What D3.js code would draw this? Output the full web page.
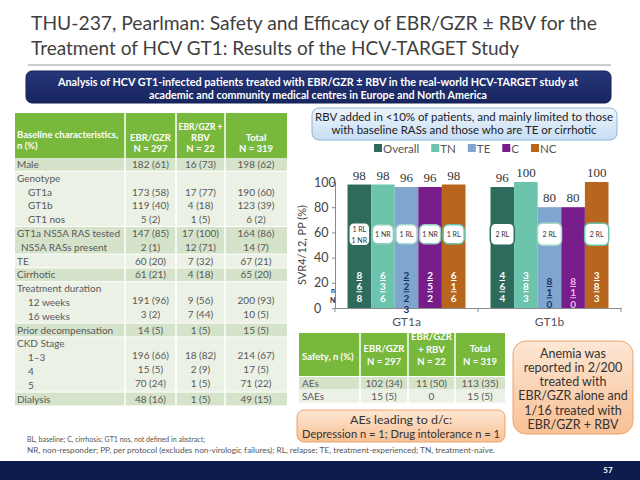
<!DOCTYPE html>
<html><head><meta charset="utf-8">
<script src="https://cdn.jsdelivr.net/npm/d3@7"></script>
<style>
body{margin:0;background:#fff;}
svg{display:block;font-family:Lato,"Open Sans",sans-serif;}
</style></head>
<body>
<svg id="c" width="640" height="480"></svg>
<script>
// ---------- DATA ----------
const groups = ["GT1a", "GT1b"];
const series = ["Overall", "TN", "TE", "C", "NC"];
const gt1aValues = [98, 98, 96, 96, 98];
const gt1bValues = [96, 100, 80, 80, 100];
const yTicks = [0, 20, 40, 60, 80, 100];
const gt1aNotes = [["1 RL", "1 NR"], ["1 NR"], ["1 RL"], ["1 NR"], ["1 RL"]];
const gt1bNotes = [["2 RL"], [], ["2 RL"], [], ["2 RL"]];
const gt1aNN = ["868", "636", "2223", "252", "616"];
const gt1bNN = ["464", "383", "810", "810", "383"];
const seriesColors = ["#2e6b5c", "#6cc4ad", "#7fa6cf", "#771d8a", "#b8651d"];

const titleLines = ["THU-237, Pearlman: Safety and Efficacy of EBR/GZR \u00b1 RBV for the",
                    "Treatment of HCV GT1: Results of the HCV-TARGET Study"];
const bannerLines = ["Analysis of HCV GT1-infected patients treated with EBR/GZR \u00b1 RBV in the real-world HCV-TARGET study at",
                     "academic and community medical centres in Europe and North America"];
const calloutLines = ["RBV added in <10% of patients, and mainly limited to those",
                      "with baseline RASs and those who are TE or cirrhotic"];

const blHeader1 = ["Baseline characteristics,", "n (%)"];
const blHeader2 = ["EBR/GZR", "N = 297"];
const blHeader3 = ["EBR/GZR +", "RBV", "N = 22"];
const blHeader4 = ["Total", "N = 319"];
const blLabels = ["Male","Genotype","GT1a","GT1b","GT1 nos","GT1a NS5A RAS tested","NS5A RASs present","TE","Cirrhotic","Treatment duration","12 weeks","16 weeks","Prior decompensation","CKD Stage","1\u20133","4","5","Dialysis"];
const blIndent = [0,0,1,1,1,0,1,0,0,0,1,1,0,0,1,1,1,0];
const blBlock  = [0,1,1,1,1,2,2,3,4,5,5,5,6,7,7,7,7,8];
const blEBR   = ["182 (61)","","173 (58)","119 (40)","5 (2)","147 (85)","2 (1)","60 (20)","61 (21)","","191 (96)","3 (2)","14 (5)","","196 (66)","15 (5)","70 (24)","48 (16)"];
const blRBV   = ["16 (73)","","17 (77)","4 (18)","1 (5)","17 (100)","12 (71)","7 (32)","4 (18)","","9 (56)","7 (44)","1 (5)","","18 (82)","2 (9)","1 (5)","1 (5)"];
const blTotal = ["198 (62)","","190 (60)","123 (39)","6 (2)","164 (86)","14 (7)","67 (21)","65 (20)","","200 (93)","10 (5)","15 (5)","","214 (67)","17 (5)","71 (22)","49 (15)"];

const sfHeader1 = ["Safety, n (%)"];
const sfHeader2 = ["EBR/GZR", "N = 297"];
const sfHeader3 = ["EBR/GZR", "+ RBV", "N = 22"];
const sfHeader4 = ["Total", "N = 319"];
const sfLabels = ["AEs", "SAEs"];
const sfEBR = ["102 (34)", "15 (5)"];
const sfRBV = ["11 (50)", "0"];
const sfTotal = ["113 (35)", "15 (5)"];

const dcLines = ["AEs leading to d/c:", "Depression n = 1; Drug intolerance n = 1"];
const anemiaLines = ["Anemia was", "reported in 2/200", "treated with", "EBR/GZR alone and", "1/16 treated with", "EBR/GZR + RBV"];
const footLines = ["BL, baseline; C, cirrhosis; GT1 nos, not defined in abstract;",
  "NR, non-responder; PP, per protocol (excludes non-virologic failures); RL, relapse; TE, treatment-experienced; TN, treatment-naive."];
const pageNumber = "57";

// ---------- DRAW ----------
const svg = d3.select("#c");
const defs = svg.append("defs");
function lg(id, c1, c2){
  const g = defs.append("linearGradient").attr("id", id).attr("x1",0).attr("y1",0).attr("x2",0).attr("y2",1);
  g.append("stop").attr("offset","0%").attr("stop-color",c1);
  g.append("stop").attr("offset","100%").attr("stop-color",c2);
}
lg("gBlue", "#eef5fc", "#c7ddf3");
lg("gOrange", "#fde7d4", "#f8c094");
lg("gNavy", "#25367a", "#18265e");

function fit(sel, maxW){
  sel.each(function(){
    const w = this.getComputedTextLength();
    if (w > maxW) d3.select(this).attr("textLength", maxW).attr("lengthAdjust","spacingAndGlyphs");
  });
}

// Title
svg.selectAll("text.title").data(titleLines).join("text")
  .attr("x", 31).attr("y", (d,i)=>30 + i*25)
  .attr("font-size", 20).attr("fill", "#3f3f3f")
  .attr("textLength", (d,i)=> i===0 ? 566 : 488).attr("lengthAdjust","spacingAndGlyphs")
  .text(d=>d);
svg.append("line").attr("x1",28).attr("x2",611).attr("y1",65).attr("y2",65).attr("stroke","#9a9a9a").attr("stroke-width",1);

// Banner
svg.append("rect").attr("x",26).attr("y",71).attr("width",585).attr("height",32).attr("rx",6)
  .attr("fill","url(#gNavy)").attr("stroke","#142055");
svg.selectAll("text.banner").data(bannerLines).join("text")
  .attr("x", 318).attr("y",(d,i)=>86 + i*12.5).attr("text-anchor","middle")
  .attr("font-size", 11).attr("font-weight","bold").attr("fill","#fff")
  .attr("textLength",(d,i)=> i===0 ? 520 : 338).attr("lengthAdjust","spacingAndGlyphs")
  .text(d=>d);

// Callout (blue)
svg.append("rect").attr("x",312).attr("y",108).attr("width",305).attr("height",32).attr("rx",7)
  .attr("fill","url(#gBlue)").attr("stroke","#8fb4dc");
svg.selectAll("text.callout").data(calloutLines).join("text")
  .attr("x", 464).attr("y",(d,i)=>120.5 + i*13.5).attr("text-anchor","middle")
  .attr("font-size", 11.5).attr("fill","#222")
  .attr("textLength",(d,i)=> i===0 ? 298 : 265).attr("lengthAdjust","spacingAndGlyphs")
  .text(d=>d);

// ---------- Bar chart ----------
const x0 = d3.scaleBand().domain(groups).range([335, 621]);
const x1 = d3.scaleBand().domain(series).range([0, x0.bandwidth()]).paddingOuter(0.53);
const y = d3.scaleLinear().domain([0, 100]).range([308, 182]);
const color = d3.scaleOrdinal().domain(series).range(seriesColors);

const valuesByGroup = {GT1a: gt1aValues, GT1b: gt1bValues};
const notesByGroup = {GT1a: gt1aNotes, GT1b: gt1bNotes};
const nnByGroup = {GT1a: gt1aNN, GT1b: gt1bNN};

// legend
const leg = svg.append("g").attr("transform","translate(374,149)");
let lx = 0;
series.forEach((s,i)=>{
  const g = leg.append("g").attr("transform",`translate(${lx},0)`);
  g.append("rect").attr("x",0).attr("y",-5).attr("width",8).attr("height",8).attr("fill",color(s));
  const t = g.append("text").attr("x",9).attr("y",3.5).attr("font-size",11.5).attr("fill","#555").text(s);
  lx += 9 + t.node().getComputedTextLength() + 12;
});

// axes
const yAxis = svg.append("g").attr("transform","translate(335,0)")
  .call(d3.axisLeft(y).tickValues(yTicks).tickSize(3).tickSizeOuter(0).tickPadding(2));
yAxis.select(".domain").attr("stroke","#8a8a8a");
yAxis.selectAll(".tick line").attr("stroke","#8a8a8a");
yAxis.selectAll(".tick text").attr("font-size",12.5).attr("fill","#444")
  .attr("font-family","Lato, sans-serif").attr("text-anchor","start").attr("x",-21);

const xAxis = svg.append("g").attr("transform","translate(0,308)")
  .call(d3.axisBottom(x0).tickSize(0).tickPadding(9).tickSizeOuter(0));
xAxis.select(".domain").attr("stroke","#8a8a8a");
xAxis.selectAll(".tick text").attr("font-size",12).attr("fill","#555").attr("font-family","Lato, sans-serif");
const bounds = [x0(groups[0])].concat(groups.map(g=>x0(g)+x0.bandwidth()));
xAxis.selectAll("line.bnd").data(bounds).join("line").attr("class","bnd")
  .attr("x1",d=>d).attr("x2",d=>d).attr("y1",0).attr("y2",4).attr("stroke","#8a8a8a");

// y axis title
svg.append("text").attr("transform","translate(306,245) rotate(-90)")
  .attr("text-anchor","middle").attr("font-size",11).attr("fill","#444").text("SVR4/12, PP (%)");

// bars
const gGroups = svg.selectAll("g.grp").data(groups).join("g").attr("class","grp")
  .attr("transform", g=>`translate(${x0(g)},0)`);
const barData = g => series.map((s,i)=>({g, s, i, v: valuesByGroup[g][i], note: notesByGroup[g][i], nn: nnByGroup[g][i]}));

gGroups.selectAll("rect.bar").data(barData).join("rect").attr("class","bar")
  .attr("x", d=>x1(d.s)).attr("width", x1.bandwidth())
  .attr("y", d=>y(d.v)).attr("height", d=>y(0)-y(d.v)).attr("fill", d=>color(d.s));

gGroups.selectAll("text.val").data(barData).join("text").attr("class","val")
  .attr("x", d=>x1(d.s)+x1.bandwidth()/2).attr("y", d=>y(d.v)-5)
  .attr("text-anchor","middle").attr("font-size",13).attr("fill","#333")
  .attr("font-family","'Liberation Serif', serif").text(d=>d.v);

// note boxes
const boxStroke = ["#2e6b5c", "#8fcfbe", "#a8d8cc", "#8fcfbe", "#6cc4ad"];
const noteG = gGroups.selectAll("g.note").data(g=>barData(g).filter(d=>d.note.length)).join("g").attr("class","note")
  .attr("transform", d=>`translate(${x1(d.s)+x1.bandwidth()/2},${y(58.5)})`);
noteG.append("rect")
  .attr("x", d=> d.g==="GT1b" ? -12 : -10.5).attr("width", d=> d.g==="GT1b" ? 24 : 21)
  .attr("y", d=> d.note.length>1 ? -11.5 : (d.g==="GT1b" ? -11 : -9.5))
  .attr("height", d=> d.note.length>1 ? 23 : (d.g==="GT1b" ? 22 : 19))
  .attr("rx", 5).attr("fill","#fff").attr("stroke", d=>boxStroke[d.i]).attr("stroke-width",1.5);
noteG.selectAll("text").data(d=>d.note.map((t,k)=>({t,k,n:d.note.length}))).join("text")
  .attr("x",0).attr("y", d=> d.n>1 ? (d.k===0 ? -2 : 8.5) : 2.5)
  .attr("text-anchor","middle").attr("font-size",7).attr("fill","#333").text(d=>d.t);

// n/N digit stacks
const nnColor = (d)=> d.s==="TE" ? "#1f2f5e" : (d.g==="GT1b" && d.s==="C" ? "#f3b5ee" : "#ffffff");
const nnG = gGroups.selectAll("g.nn").data(barData).join("g").attr("class","nn")
  .attr("transform", d=>`translate(${x1(d.s)+x1.bandwidth()/2},0)`);
nnG.selectAll("text").data(d=>d.nn.split("").map((c,k)=>({c,k,d}))).join("text")
  .attr("x",0)
  .attr("y", e=> (e.d.g==="GT1b" && (e.d.s==="TE"||e.d.s==="C") ? 285 : 279) + e.k*11.3)
  .attr("text-anchor","middle").attr("font-size",10).attr("font-weight","bold")
  .attr("fill", e=>nnColor(e.d))
  .attr("text-decoration", e=> e.k<2 ? "underline" : null)
  .text(e=>e.c);
svg.append("text").attr("x",331).attr("y",293).attr("font-size",7).attr("font-weight","bold").attr("fill","#222").text("n");
svg.append("text").attr("x",330).attr("y",303).attr("font-size",7).attr("font-weight","bold").attr("fill","#222").text("N");

// ---------- Baseline table ----------
const tCols = [15, 125, 176, 225, 287];
const green = "#78b83c";
const bt = svg.append("g");
bt.append("rect").attr("x",tCols[0]).attr("y",113).attr("width",tCols[4]-tCols[0]).attr("height",45).attr("fill",green);
[1,2,3].forEach(i=> bt.append("line").attr("x1",tCols[i]).attr("x2",tCols[i]).attr("y1",113).attr("y2",158).attr("stroke","#fff").attr("stroke-width",1.5));
function hdr(lines, cx, anchor, y0, maxW){
  bt.selectAll(null).data(lines).join("text").attr("x",cx).attr("y",(d,i)=>y0 + i*11)
    .attr("text-anchor",anchor).attr("font-size",9.5).attr("font-weight","bold").attr("fill","#fff").text(d=>d)
    .call(fit, maxW);
}
hdr(blHeader1, 17, "start", 138, 106);
hdr(blHeader2, (tCols[1]+tCols[2])/2, "middle", 141, 46);
hdr(blHeader3, (tCols[2]+tCols[3])/2, "middle", 130, 44);
hdr(blHeader4, (tCols[3]+tCols[4])/2, "middle", 141, 56);

const lineH = 13.8, tTop = 157.5;
const lineY = blLabels.map((d,i)=> tTop + lineH*(i+0.5));
const blocks = d3.groups(blLabels.map((d,i)=>i), i=>blBlock[i]);
blocks.forEach(([b, idx])=>{
  const y0 = tTop + lineH*idx[0], h = lineH*idx.length;
  for(let c=0;c<4;c++){
    bt.append("rect").attr("x",tCols[c]+(c?0.75:0)).attr("y",y0+0.5).attr("width",tCols[c+1]-tCols[c]-(c?0.75:0)-(c<3?0.75:0)).attr("height",h-1)
      .attr("fill", b%2===0 ? "#d5e3cb" : "#ebf1e5");
  }
});
bt.selectAll("text.bl").data(blLabels).join("text").attr("class","bl")
  .attr("x",(d,i)=>17 + blIndent[i]*(i===6?4:11)).attr("y",(d,i)=>lineY[i]+3.5)
  .attr("font-size",10).attr("fill","#595959").text(d=>d).call(fit, 106);
[blEBR, blRBV, blTotal].forEach((col, c)=>{
  bt.selectAll(null).data(col).join("text")
    .attr("x",(tCols[c+1]+tCols[c+2])/2).attr("y",(d,i)=>lineY[i]+3.5 - ((blBlock[i]===5||blBlock[i]===7)?2:0))
    .attr("text-anchor","middle").attr("font-size",10).attr("fill","#595959").text(d=>d);
});

// ---------- Safety table ----------
const sCols = [299, 360, 408, 455, 505];
const st = svg.append("g");
st.append("rect").attr("x",sCols[0]).attr("y",333).attr("width",sCols[4]-sCols[0]).attr("height",43).attr("fill",green);
[1,2,3].forEach(i=> st.append("line").attr("x1",sCols[i]).attr("x2",sCols[i]).attr("y1",333).attr("y2",376).attr("stroke","#fff").attr("stroke-width",1.5));
function shdr(lines, cx, anchor, y0, maxW){
  st.selectAll(null).data(lines).join("text").attr("x",cx).attr("y",(d,i)=>y0 + i*12.5)
    .attr("text-anchor",anchor).attr("font-size",9.5).attr("font-weight","bold").attr("fill","#fff").text(d=>d)
    .call(fit, maxW);
}
shdr(sfHeader1, 302, "start", 360, 56);
shdr(sfHeader2, (sCols[1]+sCols[2])/2, "middle", 352, 43);
shdr(sfHeader3, (sCols[2]+sCols[3])/2, "middle", 340, 42);
shdr(sfHeader4, (sCols[3]+sCols[4])/2, "middle", 352, 45);
sfLabels.forEach((d,i)=>{
  for(let c=0;c<4;c++){
    st.append("rect").attr("x",sCols[c]+(c?0.75:0)).attr("y",377+i*13).attr("width",sCols[c+1]-sCols[c]-(c?0.75:0)-(c<3?0.75:0)).attr("height",12.5)
      .attr("fill", i===0 ? "#d5e3cb" : "#ebf1e5");
  }
});
st.selectAll("text.sl").data(sfLabels).join("text").attr("class","sl")
  .attr("x",302).attr("y",(d,i)=>387 + i*13).attr("font-size",10).attr("fill","#595959").text(d=>d);
[sfEBR, sfRBV, sfTotal].forEach((col,c)=>{
  st.selectAll(null).data(col).join("text").attr("x",(sCols[c+1]+sCols[c+2])/2).attr("y",(d,i)=>387 + i*13)
    .attr("text-anchor","middle").attr("font-size",10).attr("fill","#595959").text(d=>d);
});

// ---------- orange boxes ----------
svg.append("rect").attr("x",297).attr("y",410).attr("width",208).attr("height",32).attr("rx",7)
  .attr("fill","url(#gOrange)").attr("stroke","#e9a46e");
svg.selectAll("text.dc").data(dcLines).join("text").attr("class","dc")
  .attr("x",401).attr("y",(d,i)=>424 + i*13.5).attr("text-anchor","middle")
  .attr("font-size",12).attr("fill","#333")
  .attr("textLength",(d,i)=> i===0 ? 102 : 198).attr("lengthAdjust","spacingAndGlyphs").text(d=>d);

svg.append("rect").attr("x",513).attr("y",341).attr("width",120).attr("height",93).attr("rx",13)
  .attr("fill","url(#gOrange)").attr("stroke","#e9a46e");
svg.selectAll("text.an").data(anemiaLines).join("text").attr("class","an")
  .attr("x",573).attr("y",(d,i)=>357.5 + i*14.3).attr("text-anchor","middle")
  .attr("font-size",12.5).attr("fill","#333").text(d=>d);

// ---------- footnotes & footer ----------
svg.selectAll("text.fn").data(footLines).join("text").attr("class","fn")
  .attr("x",27).attr("y",(d,i)=>442 + i*11).attr("font-size",7).attr("fill","#555")
  .attr("textLength",(d,i)=> i===0 ? 178 : 468).attr("lengthAdjust","spacingAndGlyphs").text(d=>d);
svg.append("rect").attr("x",0).attr("y",461).attr("width",640).attr("height",19).attr("fill","#0e1c4d");
svg.append("text").attr("x",608).attr("y",473).attr("text-anchor","middle").attr("font-size",8)
  .attr("font-weight","bold").attr("fill","#fff").text(pageNumber);
</script>
</body></html>
